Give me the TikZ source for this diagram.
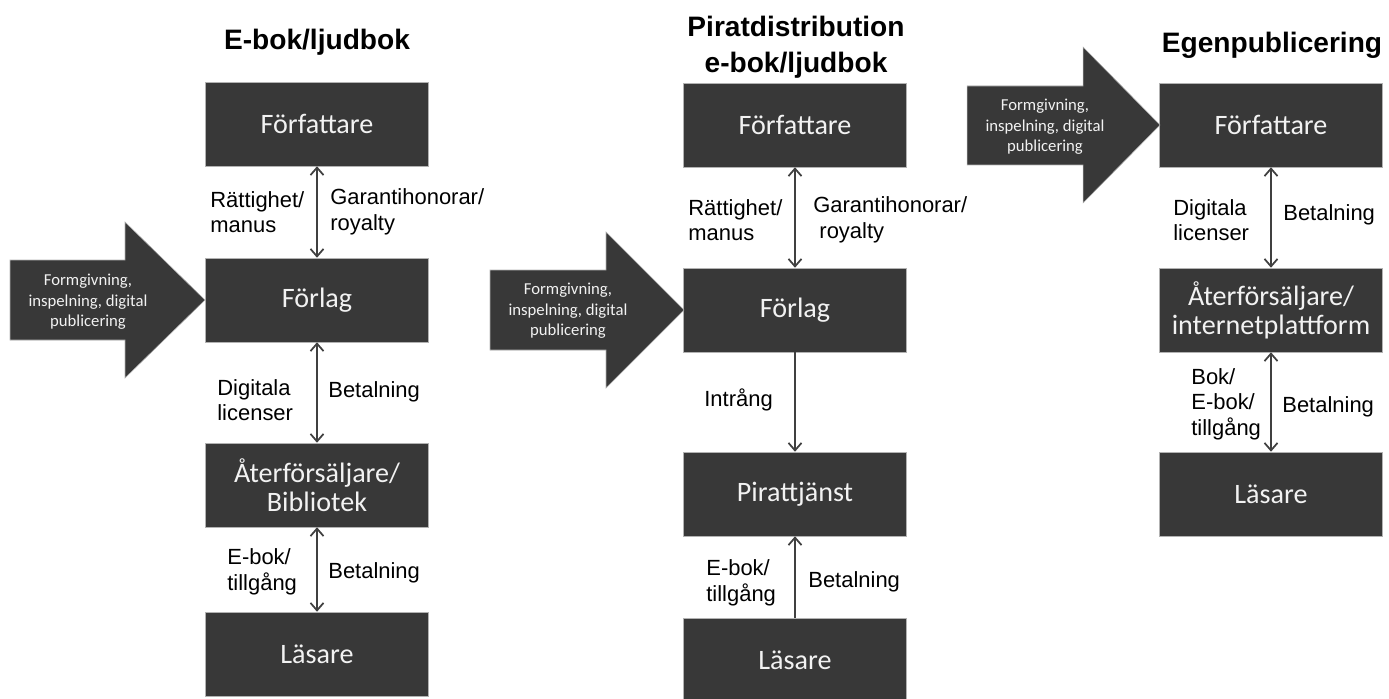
\documentclass[tikz,border=0pt]{standalone}
\usepackage{fontspec}
\setmainfont{Liberation Sans}
\newfontfamily\calib{Carlito}
\usepackage{tikz}
\usetikzlibrary{arrows.meta}
\definecolor{boxgray}{RGB}{56,56,56}
\definecolor{linegray}{RGB}{64,64,64}
\definecolor{txtwhite}{RGB}{242,242,242}
\tikzset{
  actor/.style={fill=boxgray, draw=gray!60, line width=0.3pt, text=txtwhite, minimum width=4.46cm, minimum height=1.68cm, align=center, inner sep=0pt, font=\calib\fontsize{16}{16.5}\selectfont},
  flow/.style={linegray, line width=1pt},
  lbl/.style={anchor=west, align=left, inner sep=0pt, font=\fontsize{12.5}{14.5}\selectfont},
  ttl/.style={align=center, font=\bfseries\fontsize{16}{20.5}\selectfont},
  bigarrow/.style={fill=boxgray, draw=gray!60, line width=0.3pt},
  arrowtxt/.style={text=txtwhite, align=center, inner sep=0pt, font=\calib\fontsize{9.5}{11.7}\selectfont}
}
\begin{document}
\begin{tikzpicture}[x=0.02cm, y=-0.02cm, >={Straight Barb[length=1.5mm,width=2.6mm]}]
  \useasboundingbox (0,0) rectangle (1389,699);

  \node[ttl] (title1) at (317,42) {E-bok/ljudbok};
  \node[actor] (forf1) at (317,124) {Författare};
  \node[actor] (forl1) at (317,300) {Förlag};
  \node[actor] (ater1) at (317,485) {Återförsäljare/\\Bibliotek};
  \node[actor] (las1) at (317,654) {Läsare};
  \fill[bigarrow] (10,260) -- (125,260) -- (125,222) -- (205,300) -- (125,378) -- (125,340) -- (10,340) -- cycle;
  \node[arrowtxt] (form1) at (88,302) {Formgivning,\\inspelning, digital\\publicering};
  \draw[flow, <->] (forf1) -- (forl1);
  \draw[flow, <->] (forl1) -- (ater1);
  \draw[flow, <->] (ater1) -- (las1);
  \node[lbl] (ratt1) at (210,212) {Rättighet/\\manus};
  \node[lbl] (gar1) at (330,212) {Garantihonorar/\\royalty};
  \node[lbl] (dig1) at (217,400) {Digitala\\licenser};
  \node[lbl] (bet1) at (328,392) {Betalning};
  \node[lbl] (ebok1) at (227,572) {E-bok/\\tillgång};
  \node[lbl] (bet2) at (328,573) {Betalning};

  \node[ttl] (title2) at (796,47) {Piratdistribution\\e-bok/ljudbok};
  \node[actor] (forf2) at (795,125) {Författare};
  \node[actor] (forl2) at (795,310) {Förlag};
  \node[actor] (pirat) at (795,494) {Pirattjänst};
  \node[actor] (las2) at (795,660) {Läsare};
  \fill[bigarrow] (490,270) -- (606,270) -- (606,232) -- (684,310) -- (606,388) -- (606,350) -- (490,350) -- cycle;
  \node[arrowtxt] (form2) at (568,311) {Formgivning,\\inspelning, digital\\publicering};
  \draw[flow, <->] (forf2) -- (forl2);
  \draw[flow, ->] (forl2) -- (pirat);
  \draw[flow, ->] (las2) -- (pirat);
  \node[lbl] (ratt2) at (688,220) {Rättighet/\\manus};
  \node[lbl] (gar2) at (813,220) {Garantihonorar/\\\ royalty};
  \node[lbl] (intr) at (704,400) {Intrång};
  \node[lbl] (ebok2) at (706,583) {E-bok/\\tillgång};
  \node[lbl] (bet3) at (808,582) {Betalning};

  \node[ttl] (title3) at (1272,45) {Egenpublicering};
  \node[actor] (forf3) at (1271,125) {Författare};
  \node[actor] (ater3) at (1271,310) {Återförsäljare/\\internetplattform};
  \node[actor] (las3) at (1271,494) {Läsare};
  \fill[bigarrow] (967,86) -- (1083,86) -- (1083,47) -- (1160,125) -- (1083,203) -- (1083,165) -- (967,165) -- cycle;
  \node[arrowtxt] (form3) at (1045,127) {Formgivning,\\inspelning, digital\\publicering};
  \draw[flow, <->] (forf3) -- (ater3);
  \draw[flow, <->] (ater3) -- (las3);
  \node[lbl] (dig3) at (1173,220) {Digitala\\licenser};
  \node[lbl] (bet4) at (1283,215) {Betalning};
  \node[lbl] (bok3) at (1191,404) {Bok/\\E-bok/\\tillgång};
  \node[lbl] (bet5) at (1282,407) {Betalning};
\end{tikzpicture}
\end{document}
